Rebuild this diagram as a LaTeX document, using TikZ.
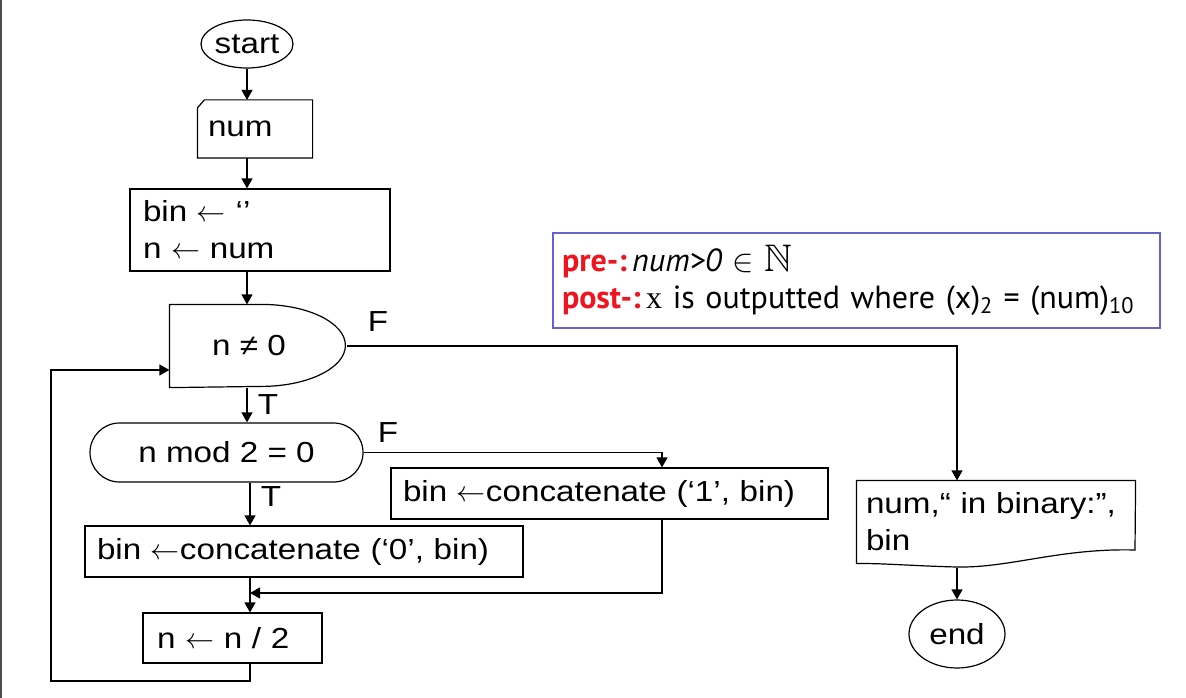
\RequirePackage{fix-cm}
\documentclass[tikz,border=0pt]{standalone}
\usepackage{amssymb}
\usepackage{graphicx}
\usepackage{fontspec}
\setmainfont[FakeStretch=1.145]{Liberation Sans}
\newfontfamily\condfont{PT Sans}
\newfontfamily\serx{Liberation Serif}
\usetikzlibrary{arrows.meta,shapes.geometric}
\definecolor{prered}{HTML}{F0141E}
\definecolor{boxblue}{HTML}{6464CC}
\newcommand{\lar}{$\leftarrow$}
\begin{document}
\begin{tikzpicture}[x=1pt,y=-1pt,line width=1.2pt,
  every node/.style={font=\fontsize{29}{37}\selectfont,inner sep=0pt},
  arr/.style={-{Triangle[length=10pt,width=11pt]}},
  procbox/.style={draw,rectangle,align=left},
  lbl/.style={font=\fontsize{29}{37}\selectfont}]
\useasboundingbox[fill=white] (0,0) rectangle (1186,698);
\draw[line width=2pt,black!70] (1,0) -- (1,698);
% nodes
\node[draw,ellipse,minimum width=92pt,minimum height=48pt] (start) at (247,44) {start};
\node[rectangle,align=left,text width=94pt,inner xsep=10pt,minimum height=57pt] (num) at (255,129) {num};
\draw (num.south west) -- ([yshift=-8pt]num.north west) -- ([xshift=7pt]num.north west) -- (num.north east) -- (num.south east) -- cycle;
\node[procbox,text width=234pt,inner xsep=13pt,minimum height=82pt] (init) at (260,230) {bin \lar\ ‘’\\n \lar\ num};
\node[rectangle,minimum width=158pt,minimum height=82pt] (d1) at (249,346) {n ≠ 0};
\draw (d1.north west) -- ++(92,0) arc[start angle=90,end angle=-90,x radius=84pt,y radius=41pt] -- (d1.south west) -- cycle;
\node[draw,rectangle,rounded corners=29.5pt,minimum width=273pt,minimum height=59pt] (m2) at (226.5,452.5) {n mod 2 = 0};
\node[procbox,text width=413pt,inner xsep=12pt,minimum height=51pt] (c1) at (609.5,493.5) {bin \lar concatenate (‘1’, bin)};
\node[procbox,text width=414pt,inner xsep=12pt,minimum height=51pt] (c0) at (304,551.5) {bin \lar concatenate (‘0’, bin)};
\node[procbox,text width=151pt,inner xsep=14pt,minimum height=50pt] (n2) at (232.5,638) {n \lar\ n / 2};
\node[draw=boxblue,rectangle,align=left,text width=589pt,inner xsep=9pt,minimum height=95pt,font=\condfont\fontsize{32}{37}\selectfont] (cond) at (856.5,280.5)
 {{\color{prered}\bfseries pre-:}\,{\itshape num>0} $\in$ \scalebox{1.2}{$\mathbb{N}$}\\
  {\color{prered}\bfseries post-:}\,{\serx x} is outputted where (x)\textsubscript{2} = (num)\textsubscript{10}};
\node[rectangle,align=left,text width=260pt,inner xsep=9pt,minimum height=82pt] (out) at (996,522) {num,“ in binary:”,\\bin};
\draw (out.north west) -- (out.north east) -- (1135,550) .. controls (1060,548) and (1010,568) .. (957,567) .. controls (915,566) and (880,563) .. (out.south west) -- cycle;
\node[draw,ellipse,minimum width=96pt,minimum height=68pt] (endn) at (957,634) {end};
% labels
\node[lbl] (F1) at (378,322) {F};
\node[lbl] (T1) at (268,405) {T};
\node[lbl] (F2) at (388,433) {F};
\node[lbl] (T2) at (271,497) {T};
% helper coordinates
\coordinate (ax) at (250,0);
\coordinate (mrg) at (250,593);
\coordinate (lp) at (51,681);
% connectors
\draw[arr] (start.south) -- (start.south |- num.north);
\draw[arr] (num.south -| start) -- (init.north -| start);
\draw[arr] (init.south -| start) -- (d1.north -| start);
\draw[arr] (d1.south -| start) -- (m2.north -| start);
\draw[arr] ([xshift=18pt]d1.east) -| (out.north -| endn);
\draw[arr] (m2.east) -| ([xshift=52.5pt]c1.north);
\draw[arr] (m2.south -| ax) -- (c0.north -| ax);
\draw[arr] ([xshift=52.5pt]c1.south) |- (mrg);
\draw[arr] (c0.south -| ax) -- (n2.north -| ax);
\draw[arr] (n2.south -| ax) |- (lp) |- ([yshift=-24pt]d1.west);
\draw[arr] ([yshift=-4pt]out.south -| endn) -- (endn.north);
\end{tikzpicture}
\end{document}
